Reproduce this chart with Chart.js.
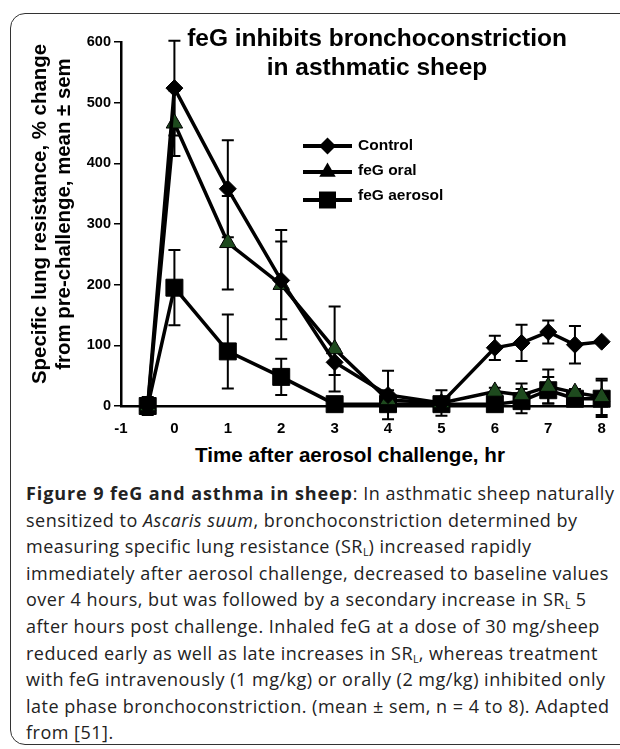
<!DOCTYPE html>
<html>
<head>
<meta charset="utf-8">
<script src="https://cdn.jsdelivr.net/npm/chart.js@4.4.1/dist/chart.umd.min.js"></script>
<style>
  html, body { margin: 0; padding: 0; background: #fff; }
  body { width: 620px; height: 749px; position: relative; overflow: hidden; }
  #frame { position: absolute; left: 10px; top: 13px; width: 650px; height: 732px;
           border: 1.5px solid #333; border-radius: 15px; box-sizing: border-box; }
  #wrap { position: absolute; left: 0; top: 0; width: 620px; height: 440px; }
  #title { position: absolute; left: 177px; top: 24px; width: 400px; text-align: center;
           font-family: "Liberation Sans", Arial, sans-serif; font-weight: bold; font-size: 24.5px;
           line-height: 28.5px; color: #000; white-space: nowrap; }
  #ytitle { position: absolute; left: -148.8px; top: 190px; width: 400px; height: 48px;
            transform: rotate(-90deg); transform-origin: 50% 50%; text-align: center;
            font-family: "Liberation Sans", Arial, sans-serif; font-weight: bold; font-size: 20.4px;
            line-height: 24px; color: #000; white-space: nowrap; }
  #xtitle { position: absolute; left: 150px; top: 443px; width: 400px; text-align: center;
            font-family: "Liberation Sans", Arial, sans-serif; font-weight: bold; font-size: 20.6px;
            line-height: 24px; color: #000; white-space: nowrap; }
  #caption { position: absolute; left: 26px; top: 480px; font-family: "Open Sans", sans-serif;
             font-size: 18px; letter-spacing: 0.5px; line-height: 26.6px; color: #222; white-space: nowrap; }
  #caption b { letter-spacing: 0.9px; }
  #caption sub { font-size: 0.6em; vertical-align: -0.25em; line-height: 0; letter-spacing: 0; }
</style>
</head>
<body>
<div id="frame"></div>
<div id="wrap"><canvas id="c" width="620" height="440"></canvas></div>
<div id="title">feG inhibits bronchoconstriction<br>in asthmatic sheep</div>
<div id="ytitle">Specific lung resistance, % change<br>from pre-challenge, mean ± sem</div>
<div id="xtitle">Time after aerosol challenge, hr</div>
<div id="caption"><b>Figure 9 feG and asthma in sheep</b>: In asthmatic sheep naturally<br>sensitized to <i>Ascaris suum</i>, bronchoconstriction determined by<br>measuring specific lung resistance (SR<sub>L</sub>) increased rapidly<br>immediately after aerosol challenge, decreased to baseline values<br>over 4 hours, but was followed by a secondary increase in SR<sub>L</sub> 5<br>after hours post challenge. Inhaled feG at a dose of 30 mg/sheep<br>reduced early as well as late increases in SR<sub>L</sub>, whereas treatment<br>with feG intravenously (1 mg/kg) or orally (2 mg/kg) inhibited only<br>late phase bronchoconstriction. (mean ± sem, n = 4 to 8). Adapted<br>from [51].</div>
<script>
// ---- data ----
const hours       = [-0.5, 0, 1, 2, 3, 4, 5, 6, 6.5, 7, 7.5, 8];
const control     = [0, 524, 358, 207, 72, 18, 5, 96, 104, 122, 101, 106];
const controlErr  = [15, 78, 80, 64, 21, 40, 21, 20, 30, 19, 31, 0];
const oral        = [0, 466, 269, 200, 94, 10, 5, 24, 18, 32, 22, 15];
const oralErr     = [0, 54, 77, 90, 70, 16, 10, 6, 19, 28, 6, 30];
const aerosol     = [0, 195, 90, 48, 3, 3, 3, 3, 8, 26, 12, 12];
const aerosolErr  = [0, 62, 61, 30, 0, 0, 0, 0, 20, 22, 0, 30];
const seriesNames = ["Control", "feG oral", "feG aerosol"];
const xRange = [-1, 8.1];
const yRange = [0, 600];

function pts(vals) { return hours.map((h, i) => ({ x: h, y: vals[i] })); }

const errorBars = {
  id: 'errorBars',
  beforeDatasetsDraw(chart) {
    const ctx = chart.ctx, ys = chart.scales.y, xs = chart.scales.x;
    ctx.save();
    ctx.strokeStyle = '#000';
    ctx.lineWidth = 2;
    chart.data.datasets.forEach(ds => {
      ds.err.forEach((e, i) => {
        if (!e) return;
        const px = xs.getPixelForValue(ds.data[i].x);
        const hi = ys.getPixelForValue(ds.data[i].y + e);
        const lo = ys.getPixelForValue(ds.data[i].y - e);
        ctx.beginPath();
        ctx.moveTo(px, hi); ctx.lineTo(px, lo);
        ctx.moveTo(px - 6, hi); ctx.lineTo(px + 6, hi);
        ctx.moveTo(px - 6, lo); ctx.lineTo(px + 6, lo);
        ctx.stroke();
      });
    });
    ctx.restore();
  }
};

function drawMarker(ctx, style, r, x, y, fill) {
  ctx.beginPath();
  if (style === 'rectRot') {
    ctx.moveTo(x - r, y); ctx.lineTo(x, y - r); ctx.lineTo(x + r, y); ctx.lineTo(x, y + r);
  } else if (style === 'triangle') {
    ctx.moveTo(x, y - r);
    ctx.lineTo(x + r * Math.sin(2 * Math.PI / 3), y - r * Math.cos(2 * Math.PI / 3));
    ctx.lineTo(x + r * Math.sin(4 * Math.PI / 3), y - r * Math.cos(4 * Math.PI / 3));
  } else {
    const s = r * Math.SQRT1_2;
    ctx.rect(x - s, y - s, 2 * s, 2 * s);
  }
  ctx.closePath();
  ctx.fillStyle = fill; ctx.fill();
}

const inLegend = {
  id: 'inLegend',
  afterDatasetsDraw(chart, args, opts) {
    const ctx = chart.ctx;
    ctx.save();
    chart.data.datasets.forEach((ds, i) => {
      const ly = opts.lineY[i], ty = opts.textY[i];
      ctx.strokeStyle = '#000'; ctx.lineWidth = 4;
      ctx.beginPath(); ctx.moveTo(opts.x0, ly); ctx.lineTo(opts.x1, ly); ctx.stroke();
      drawMarker(ctx, ds.pointStyle, ds.pointRadius, (opts.x0 + opts.x1) / 2, ly, '#000');
      ctx.fillStyle = '#000';
      ctx.font = 'bold 15.5px "Liberation Sans", Arial, sans-serif';
      ctx.textBaseline = 'middle'; ctx.textAlign = 'left';
      ctx.fillText(ds.label, opts.textX, ty);
    });
    ctx.restore();
  }
};

const common = { showLine: true, tension: 0, borderColor: '#000', borderWidth: 3.5, clip: false,
                 pointBorderColor: '#000', pointHoverRadius: 0 };

new Chart(document.getElementById('c'), {
  type: 'line',
  data: {
    datasets: [
      Object.assign({ label: seriesNames[0], data: pts(control), err: controlErr,
        pointStyle: 'rectRot', pointRadius: 8.5, pointBackgroundColor: '#000', pointBorderWidth: 1 }, common),
      Object.assign({ label: seriesNames[1], data: pts(oral), err: oralErr,
        pointStyle: 'triangle', pointRadius: 9.5, pointBackgroundColor: '#1e4a1e', pointBorderWidth: 1 }, common),
      Object.assign({ label: seriesNames[2], data: pts(aerosol), err: aerosolErr,
        pointStyle: 'rect', pointRadius: 12, pointBackgroundColor: '#000', pointBorderWidth: 1 }, common)
    ]
  },
  options: {
    responsive: false,
    animation: false,
    events: [],
    layout: { padding: { left: 20, right: 8, top: 42, bottom: 0 } },
    plugins: {
      legend: { display: false },
      tooltip: { enabled: false },
      title: { display: false },
      inLegend: { x0: 303, x1: 352, textX: 358, lineY: [146, 172, 200], textY: [146, 171, 196] }
    },
    scales: {
      x: {
        type: 'linear', min: xRange[0], max: xRange[1],
        afterFit(s) { s.height = 34; },
        grid: { display: false, drawTicks: false },
        border: { display: true, color: '#000', width: 2.5 },
        ticks: { stepSize: 1, includeBounds: false, padding: 14, color: '#000',
                 font: { family: '"Liberation Sans", Arial, sans-serif', size: 15, weight: 'bold' } }
      },
      y: {
        type: 'linear', min: yRange[0], max: yRange[1],
        afterFit(s) { s.width = 101; },
        grid: { display: true, drawOnChartArea: false, drawTicks: true, tickLength: 7, color: '#000', lineWidth: 1.5 },
        border: { display: true, color: '#000', width: 2.5 },
        ticks: { stepSize: 100, padding: 3, color: '#000',
                 font: { family: '"Liberation Sans", Arial, sans-serif', size: 14.5, weight: 'bold' } }
      }
    }
  },
  plugins: [errorBars, inLegend]
});
</script>
</body>
</html>
